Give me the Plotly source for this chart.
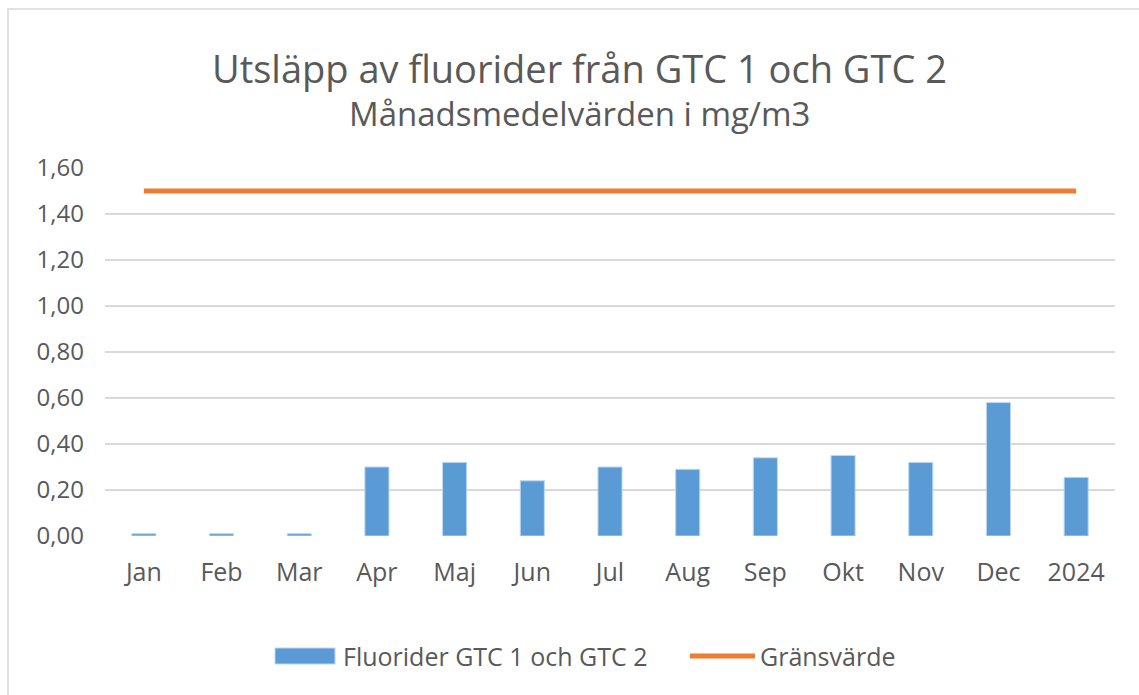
import plotly.graph_objects as go

categories = ["Jan", "Feb", "Mar", "Apr", "Maj", "Jun", "Jul", "Aug", "Sep", "Okt", "Nov", "Dec", "2024"]
fluorider = [0.01, 0.01, 0.01, 0.30, 0.32, 0.24, 0.30, 0.29, 0.34, 0.35, 0.32, 0.58, 0.255]
gransvarde = [1.50] * len(categories)
y_ticks = [0.0, 0.2, 0.4, 0.6, 0.8, 1.0, 1.2, 1.4, 1.6]
series_names = ["Fluorider GTC 1 och GTC 2", "Gränsvärde"]

FONT = "Open Sans"
GREY = "#595959"
BLUE = "#5B9BD5"
ORANGE = "#ED7D31"

W, H = 1139, 695
L, R, T, B = 105, 24, 168, 159
pw, ph = W - L - R, H - T - B

def px(x):
    return (x - L) / pw

def py(y):
    return (H - B - y) / ph

fig = go.Figure()
fig.add_trace(go.Bar(
    x=categories, y=fluorider, name=series_names[0], showlegend=False,
    marker=dict(color=BLUE, line=dict(color="#BDD7EE", width=1)),
))
fig.add_trace(go.Scatter(
    x=categories, y=gransvarde, name=series_names[1], mode="lines", showlegend=False,
    line=dict(color=ORANGE, width=5),
))

legend_y = py(656)
shapes = [
    dict(type="rect", xref="paper", yref="paper", x0=px(8), y0=py(9), x1=px(1150), y1=py(705),
         line=dict(color="#D9D9D9", width=1.5), fillcolor="rgba(0,0,0,0)", layer="below"),
    dict(type="rect", xref="paper", yref="paper", x0=px(275), x1=px(335), y0=py(664), y1=py(648),
         fillcolor=BLUE, line=dict(color="#BDD7EE", width=1)),
    dict(type="line", xref="paper", yref="paper", x0=px(690), x1=px(755), y0=legend_y, y1=legend_y,
         line=dict(color=ORANGE, width=5)),
]

annotations = [
    dict(text="Utsläpp av fluorider från GTC 1 och GTC 2", x=px(579), y=py(68),
         xref="paper", yref="paper", showarrow=False, xanchor="center", yanchor="middle",
         font=dict(size=38, color=GREY, family=FONT)),
    dict(text="Månadsmedelvärden i mg/m3", x=px(579), y=py(113),
         xref="paper", yref="paper", showarrow=False, xanchor="center", yanchor="middle",
         font=dict(size=33, color=GREY, family=FONT)),
    dict(text=series_names[0], x=px(341), y=legend_y, xref="paper", yref="paper", showarrow=False,
         xanchor="left", yanchor="middle", font=dict(size=25, color=GREY, family=FONT)),
    dict(text=series_names[1], x=px(758), y=legend_y, xref="paper", yref="paper", showarrow=False,
         xanchor="left", yanchor="middle", font=dict(size=25, color=GREY, family=FONT)),
]

fig.update_layout(
    width=W, height=H,
    margin=dict(l=L, r=R, t=T, b=B),
    paper_bgcolor="white", plot_bgcolor="white",
    separators=", ",
    bargap=0.69,
    font=dict(family=FONT, color=GREY, size=25),
    showlegend=False,
    annotations=annotations,
    shapes=shapes,
)
fig.update_xaxes(showgrid=False, showline=False, ticks="", tickfont=dict(size=25, color=GREY), ticklabelstandoff=19)
fig.update_yaxes(range=[0, 1.6], tickvals=y_ticks, tickformat=".2f", showgrid=True, gridcolor="#D9D9D9",
                 gridwidth=1.5, zeroline=False, showline=False, tickfont=dict(size=24, color=GREY), ticklabelstandoff=20)

fig.write_html("out.html", config={"displayModeBar": False}, post_script="document.body.style.margin='0';")
